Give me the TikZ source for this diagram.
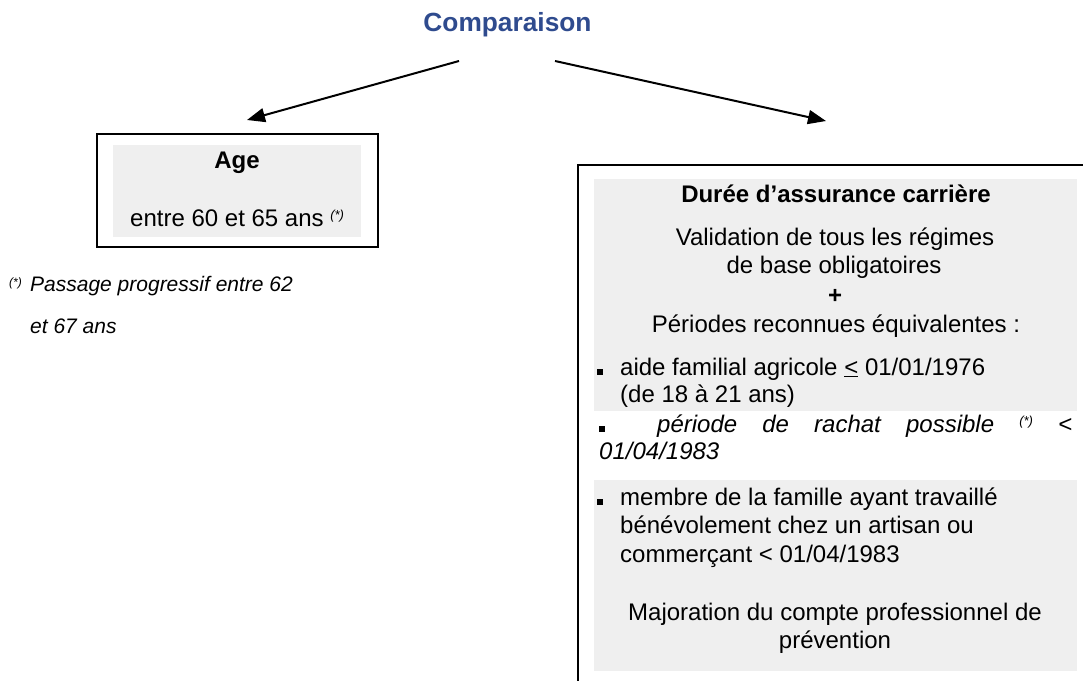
\documentclass[tikz,border=0pt]{standalone}
\usepackage{fontspec}
\setmainfont{Liberation Sans}
\usetikzlibrary{arrows.meta}
\definecolor{titleblue}{HTML}{2F4B8E}
\definecolor{boxgray}{HTML}{EFEFEF}
\newcommand{\myblt}{\raisebox{0.5pt}{\rule{6pt}{6pt}}}
\newcommand{\myast}{{\fontsize{13}{13}\selectfont\itshape (*)}}
\begin{document}
\begin{tikzpicture}[x=1pt,y=-1pt,
  txt/.style={inner sep=0pt, font=\fontsize{24}{27.6}\selectfont},
  btxt/.style={txt, font=\fontsize{24}{27.6}\selectfont\bfseries},
  itxt/.style={inner sep=0pt, font=\fontsize{24}{27.6}\selectfont\itshape},
  ftxt/.style={inner sep=0pt, font=\fontsize{21}{25}\selectfont\itshape},
  frame/.style={draw=black, line width=2pt},
  shade/.style={fill=boxgray, draw=none},
  arr/.style={line width=2pt, -{Triangle[length=18pt,width=14pt]}}]
\useasboundingbox (0,0) rectangle (1083,680);
% title
\node[inner sep=0pt, anchor=base, font=\fontsize{26.3}{30}\selectfont\bfseries, text=titleblue] (title) at (507.5,31) {Comparaison};
% arrows
\coordinate (a1s) at (459,61);
\coordinate (a1e) at (247,120);
\coordinate (a2s) at (555,61);
\coordinate (a2e) at (826,121);
\draw[arr] (a1s) -- (a1e);
\draw[arr] (a2s) -- (a2e);
% left box
\path[shade] (113,145) rectangle (361,237);
\draw[frame] (97,134) rectangle (378,247);
\node[btxt, anchor=base] (age) at (237,168) {Age};
\node[txt, anchor=base west] (agev) at (130,226) {entre 60 et 65 ans \raisebox{7pt}{\myast}};
% footnote
\node[inner sep=0pt, anchor=base west, font=\fontsize{12}{12}\selectfont\itshape] (fnm) at (9,286) {(*)};
\node[ftxt, anchor=base west] (fn1) at (30,291) {Passage progressif entre 62};
\node[ftxt, anchor=base west] (fn2) at (30,333) {et 67 ans};
% right box
\path[shade] (594,179) rectangle (1077,411);
\path[shade] (594,480) rectangle (1077,671);
\draw[frame] (1084,165) -- (578,165) -- (578,681);
\node[btxt, anchor=base] (duree) at (836,202) {Durée d’assurance carrière};
\node[txt, anchor=base] (v1) at (835,245) {Validation de tous les régimes};
\node[txt, anchor=base] (v2) at (834,273) {de base obligatoires};
\node[btxt, anchor=base] (plus) at (835,303) {+};
\node[txt, anchor=base] (per) at (836,332) {Périodes reconnues équivalentes :};
\node[txt, anchor=base west] (b1) at (597,375) {\myblt\hspace{17pt}aide familial agricole \underline{<} 01/01/1976};
\node[txt, anchor=base west] (b1b) at (620,402) {(de 18 à 21 ans)};
\node[itxt, anchor=base west] (b2) at (599,432) {\hbox to 473pt{\myblt\hspace{52pt}période\hfill de\hfill rachat\hfill possible\hfill\raisebox{7pt}{\myast}\hfill <}};
\node[itxt, anchor=base west] (b2b) at (599,459) {01/04/1983};
\node[txt, anchor=base west] (b3) at (597,505) {\myblt\hspace{17pt}membre de la famille ayant travaillé};
\node[txt, anchor=base west] (b3b) at (620,533) {bénévolement chez un artisan ou};
\node[txt, anchor=base west] (b3c) at (620,562) {commerçant < 01/04/1983};
\node[txt, anchor=base] (maj1) at (835,620) {Majoration du compte professionnel de};
\node[txt, anchor=base] (maj2) at (835,648) {prévention};
\end{tikzpicture}
\end{document}
